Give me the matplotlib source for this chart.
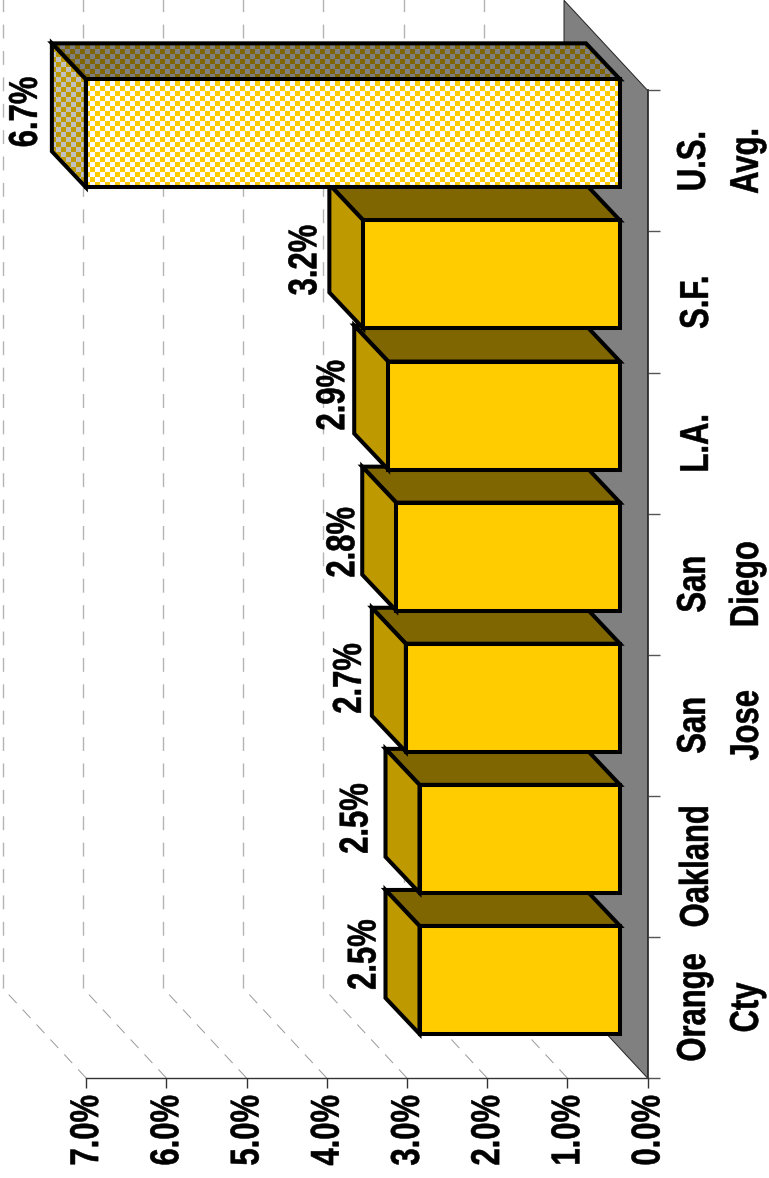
import numpy as np
from matplotlib import pyplot as plt
from matplotlib.colors import to_rgb
from matplotlib.patches import Polygon
from matplotlib.patheffects import AbstractPathEffect
from matplotlib.transforms import Affine2D

plt.rcParams['font.family'] = ['Liberation Sans']
plt.rcParams['font.weight'] = 'bold'

categories = ["Orange\nCty", "Oakland", "San\nJose", "San\nDiego", "L.A.", "S.F.", "U.S.\nAvg."]
values = [2.5, 2.5, 2.67, 2.79, 2.89, 3.2, 6.66]
value_ticks = [0, 1, 2, 3, 4, 5, 6, 7]
checkered = [False, False, False, False, False, False, True]

# hand placed labels in the original, px gap and shift from the bar
label_gap = [10, 18, 11, 8, 10, 13, 15]
label_shift = [-53, -48, -47, -42, -48, -42, -49]

# px per unit on the two axes
px_x = 80.2
px_y = 141.1
front_x = 27.5 / px_x ; back_x = 61.5 / px_x
front_y = 27.5 / px_y ; back_y = 63.5 / px_y
half_h = 54 / px_y
wall_x = 83.5 / px_x ; wall_y = 90 / px_y
cell_x = 5 / px_x ; cell_y = 5 / px_y

gold = '#FFCC00' ; gold_side = '#BF9900' ; gold_top = '#806600'
font_size = 22.3


class Stretch(AbstractPathEffect):
    # the original text is taller than wide, stretch glyphs off the baseline
    def __init__(self, sy, dx=0, weight=0.4):
        self.sy = sy
        self.dx = dx
        self.weight = weight

    def draw_path(self, renderer, gc, tpath, affine, rgbFace=None):
        tr = Affine2D().scale(1, self.sy) + affine + Affine2D().translate(self.dx, 0)
        gc0 = renderer.new_gc()
        gc0.copy_properties(gc)
        gc0.set_linewidth(self.weight)
        gc0.set_foreground('black')
        renderer.draw_path(gc0, tpath, tr, rgbFace)
        gc0.restore()


def checker(ax, patch, c1, c2, z):
    xs = patch.get_xy()[:,0] ; ys = patch.get_xy()[:,1]
    nx = int((xs.max()-xs.min())/cell_x)+1
    ny = int((ys.max()-ys.min())/cell_y)+1
    yy, xx = np.indices((ny, nx))
    colors = np.array([to_rgb(c1), to_rgb(c2)])
    rgb = colors[(xx+yy) % 2]
    im = ax.imshow(rgb, extent=(xs.min(), xs.min()+nx*cell_x, ys.min(), ys.min()+ny*cell_y),
                   aspect='auto', interpolation='nearest', zorder=z)
    im.set_clip_path(patch)


def face(ax, pts, color, z, pattern=None):
    p = Polygon(pts, closed=True, facecolor=color, edgecolor='none', zorder=z)
    ax.add_patch(p)
    if pattern is not None:
        checker(ax, p, pattern[0], pattern[1], z)
    ax.add_patch(Polygon(pts, closed=True, fill=False, edgecolor='black', linewidth=2.9,
                         joinstyle='miter', zorder=z+0.1))


fig = plt.figure(figsize=(7.69, 11.78), dpi=100)
ax = fig.add_axes([0, 0, 1, 1])
ax.set_xlim(647.5/px_x, (647.5-769)/px_x)
ax.set_ylim((1078-1178)/px_y, 1078/px_y)
ax.autoscale(False)

# floor
ax.add_patch(Polygon([(0,0), (0,7), (wall_x,7+wall_y), (wall_x,wall_y)], closed=True,
                     facecolor='#808080', edgecolor='#222222', linewidth=0.7, zorder=1))

# gridlines, diagonal then straight up
for v in value_ticks[1:]:
    ax.plot([v, v+wall_x], [0, wall_y], color='#999999', linewidth=0.7, dashes=(12, 9), zorder=0.5)
    ax.plot([v+wall_x, v+wall_x], [wall_y, 8], color='#b4b4b4', linewidth=1.0, dashes=(10, 9), zorder=0.5)

for i in range(len(values)):
    v = values[i]
    cf = i + 0.5 + front_y
    cb = i + 0.5 + back_y
    z = 3 + i
    if checkered[i]:
        p_front = ('white', gold) ; p_side = ('#C0C0C0', gold_side) ; p_top = ('#808080', gold_top)
    else:
        p_front = None ; p_side = None ; p_top = None
    face(ax, [(front_x, cf+half_h), (front_x+v, cf+half_h), (back_x+v, cb+half_h), (back_x, cb+half_h)],
         gold_top, z, p_top)
    face(ax, [(front_x+v, cf-half_h), (front_x+v, cf+half_h), (back_x+v, cb+half_h), (back_x+v, cb-half_h)],
         gold_side, z+0.2, p_side)
    face(ax, [(front_x, cf-half_h), (front_x+v, cf-half_h), (front_x+v, cf+half_h), (front_x, cf+half_h)],
         gold, z+0.4, p_front)
    t = ax.text(back_x+v+label_gap[i]/px_x, i+0.5-label_shift[i]/px_y, "%.1f%%" % v, rotation=90,
                rotation_mode='anchor', ha='center', va='baseline', fontsize=font_size,
                color='black', zorder=20)
    t.set_path_effects([Stretch(1.3)])

# axes
for s in ['top', 'left']:
    ax.spines[s].set_visible(False)
ax.spines['bottom'].set_position(('data', 0))
ax.spines['bottom'].set_bounds(0, 7)
ax.spines['right'].set_position(('data', 0))
ax.spines['right'].set_bounds(0, 7)
ax.spines['bottom'].set_color('#333333')
ax.spines['right'].set_color('#333333')
ax.spines['bottom'].set_linewidth(1.0)
ax.spines['right'].set_linewidth(1.3)
ax.spines['bottom'].set_zorder(2)
ax.spines['right'].set_zorder(2)

ax.set_xticks(value_ticks)
ax.set_xticklabels(["%.1f%%" % v for v in value_ticks], rotation=90, fontsize=font_size,
                   rotation_mode='anchor', ha='right', va='baseline')
ax.tick_params(axis='x', direction='out', length=7, width=1, color='#333333', pad=5)
for t in ax.get_xticklabels():
    t.set_path_effects([Stretch(1.3, dx=12)])

ax.yaxis.tick_right()
ax.set_yticks(np.arange(8))
ax.set_yticklabels([])
ax.set_yticks(np.arange(7)+0.5, minor=True)
ax.set_yticklabels(categories, minor=True, rotation=90, fontsize=font_size, rotation_mode='anchor',
                   va='baseline', ha='center', multialignment='center', linespacing=2.0)
ax.tick_params(axis='y', which='major', direction='out', length=8.5, width=1, color='#555555')
ax.tick_params(axis='y', which='minor', length=0, pad=43.5)
for t in ax.get_yticklabels(minor=True):
    # two line labels anchor between their lines
    if "\n" in t.get_text():
        t.set_path_effects([Stretch(1.3, dx=27)])
    else:
        t.set_path_effects([Stretch(1.3)])

fig.savefig("out.png", dpi=100)
